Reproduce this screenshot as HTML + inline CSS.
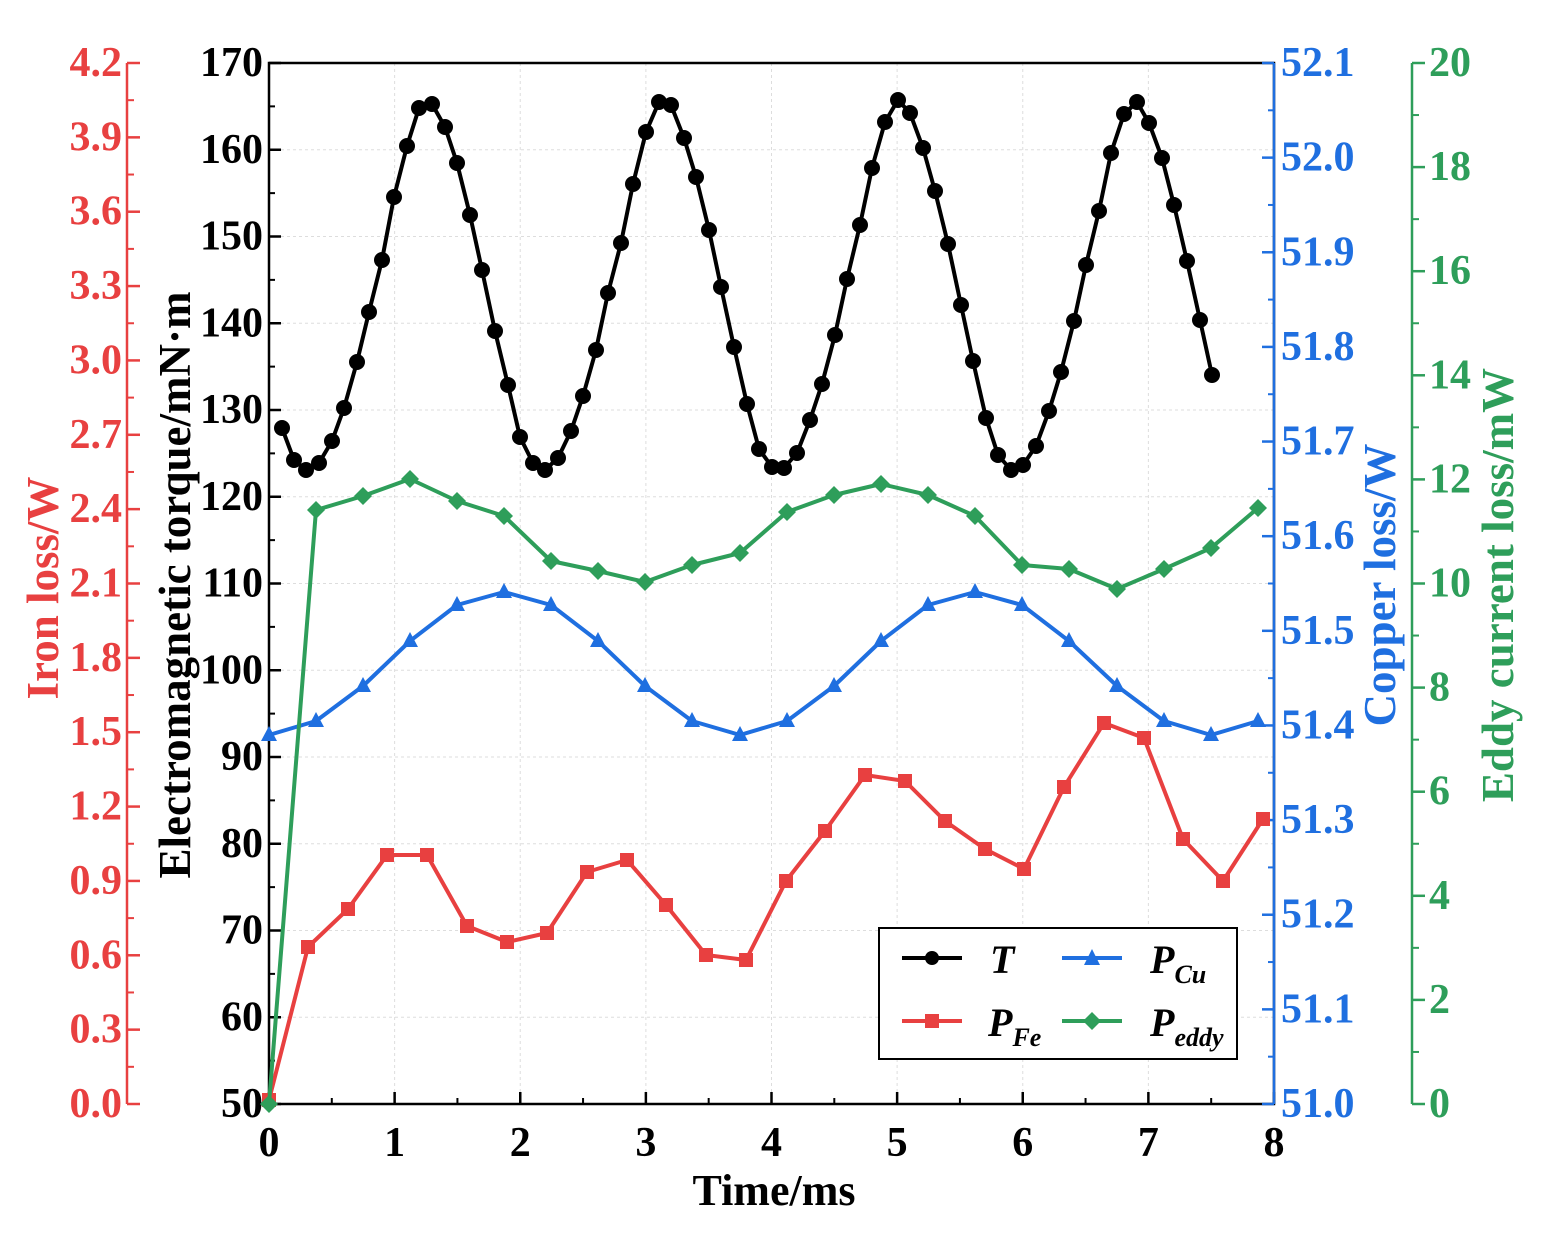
<!DOCTYPE html>
<html><head><meta charset="utf-8"><style>body{margin:0;background:#fff}svg{display:block}text{font-family:"Liberation Serif",serif;font-weight:bold}</style></head><body>
<svg width="1542" height="1245" xmlns="http://www.w3.org/2000/svg" id="s">
<g id="grid" stroke="#ddd" stroke-dasharray="3,3" stroke-width="1"></g>
<rect x="269" y="63" width="1005" height="1041" fill="none" stroke="#000" stroke-width="2.5"/>
<g id="ax"></g>
<g id="series"></g>
<rect x="879" y="928" width="358" height="131" fill="#fff" stroke="#000" stroke-width="2"/>
<g stroke-width="4">
<line x1="902" y1="958" x2="962" y2="958" stroke="#000"/><circle cx="932" cy="958" r="7"/>
<line x1="902" y1="1021" x2="962" y2="1021" stroke="#e84040"/><rect x="925" y="1014" width="14" height="14" fill="#e84040"/>
<line x1="1062" y1="958" x2="1122" y2="958" stroke="#1f6fe0"/><polygon points="1092,949 1100,965 1084,965" fill="#1f6fe0"/>
<line x1="1062" y1="1021" x2="1122" y2="1021" stroke="#2e9e5a"/><polygon points="1092,1012 1101,1021 1092,1030 1083,1021" fill="#2e9e5a"/>
</g>
<g font-style="italic" font-size="40">
<text x="990" y="973">T</text>
<text x="988" y="1036">P<tspan font-size="26" dy="10">Fe</tspan></text>
<text x="1150" y="973">P<tspan font-size="26" dy="10">Cu</tspan></text>
<text x="1150" y="1036">P<tspan font-size="26" dy="10">eddy</tspan></text>
</g>
<text x="774" y="1205" font-size="44" text-anchor="middle">Time/ms</text>
<text transform="translate(190,585) rotate(-90)" font-size="45" text-anchor="middle">Electromagnetic torque/mN·m</text>
<text transform="translate(58,588) rotate(-90)" font-size="45" text-anchor="middle" fill="#e84040">Iron loss/W</text>
<text transform="translate(1395,585) rotate(-90)" font-size="45" text-anchor="middle" fill="#1f6fe0">Copper loss/W</text>
<text transform="translate(1513,585) rotate(-90)" font-size="45" text-anchor="middle" fill="#2e9e5a">Eddy current loss/mW</text>
</svg>
<script>
const NS="http://www.w3.org/2000/svg";
function el(p,t,a,txt){const e=document.createElementNS(NS,t);for(const k in a)e.setAttribute(k,a[k]);if(txt!==undefined)e.textContent=txt;document.getElementById(p).appendChild(e);return e;}
const y0=1104,y1=63,H=y0-y1,FS=42;
for(let i=0;i<=8;i++){const x=269+i*125.625;el("ax","line",{x1:x,y1:1104,x2:x,y2:1092,stroke:"#000","stroke-width":2.5});el("ax","text",{x:x,y:1156,"font-size":FS,"text-anchor":"middle"},i);
 if(i>0&&i<8)el("grid","line",{x1:x,y1:63,x2:x,y2:1104});
 if(i<8){el("ax","line",{x1:x+62.8,y1:1104,x2:x+62.8,y2:1098,stroke:"#000","stroke-width":2});}}
for(let v=50;v<=170;v+=10){const y=y0-(v-50)/120*H;el("ax","line",{x1:269,y1:y,x2:281,y2:y,stroke:"#000","stroke-width":2.5});el("ax","text",{x:263,y:y+13,"font-size":FS,"text-anchor":"end"},v);
 if(v>50&&v<170)el("grid","line",{x1:269,y1:y,x2:1274,y2:y});
 if(v<170)el("ax","line",{x1:269,y1:y-H/24,x2:275,y2:y-H/24,stroke:"#000","stroke-width":2});}
el("ax","line",{x1:127,y1:63,x2:127,y2:1104,stroke:"#e84040","stroke-width":2.5});
for(let i=0;i<=14;i++){const y=y0-i/14*H;el("ax","line",{x1:127,y1:y,x2:140,y2:y,stroke:"#e84040","stroke-width":2.5});el("ax","text",{x:122,y:y+13,"font-size":FS,"text-anchor":"end",fill:"#e84040"},(i*0.3).toFixed(1));
 if(i<14)el("ax","line",{x1:127,y1:y-H/28,x2:134,y2:y-H/28,stroke:"#e84040","stroke-width":2});}
el("ax","line",{x1:1274,y1:63,x2:1274,y2:1104,stroke:"#1f6fe0","stroke-width":2.5});
for(let i=0;i<=11;i++){const y=y0-i/11*H;el("ax","line",{x1:1262,y1:y,x2:1274,y2:y,stroke:"#1f6fe0","stroke-width":2.5});el("ax","text",{x:1281,y:y+13,"font-size":FS,fill:"#1f6fe0"},(51+i*0.1).toFixed(1));
 if(i<11)el("ax","line",{x1:1268,y1:y-H/22,x2:1274,y2:y-H/22,stroke:"#1f6fe0","stroke-width":2});}
el("ax","line",{x1:1412,y1:63,x2:1412,y2:1104,stroke:"#2e9e5a","stroke-width":2.5});
for(let i=0;i<=10;i++){const y=y0-i/10*H;el("ax","line",{x1:1412,y1:y,x2:1425,y2:y,stroke:"#2e9e5a","stroke-width":2.5});el("ax","text",{x:1429,y:y+13,"font-size":FS,fill:"#2e9e5a"},i*2);
 if(i<10)el("ax","line",{x1:1412,y1:y-H/20,x2:1419,y2:y-H/20,stroke:"#2e9e5a","stroke-width":2});}
function line(pts,c){el("series","polyline",{points:pts.map(p=>p.join(",")).join(" "),fill:"none",stroke:c,"stroke-width":4,"stroke-linejoin":"round"});}
const tx=[282,294,306,319,332,344,357,369,382,394,407,419,432,445,457,470,482,495,508,520,533,545,558,571,583,596,608,621,633,646,659,671,684,696,709,721,734,747,759,772,784,797,810,822,835,847,860,872,885,898,910,923,935,948,961,973,986,998,1011,1023,1036,1049,1061,1074,1086,1099,1111,1124,1137,1149,1162,1174,1187,1200,1212];
const ty=[428,460,470,463,441,408,362,312,260,197,146,108,104,127,163,215,270,331,385,437,463,470,458,431,396,350,293,243,184,132,102,105,138,177,230,287,347,404,449,467,468,453,420,384,335,279,225,168,122,100,113,148,191,244,305,361,418,455,470,465,446,411,372,321,265,211,153,114,102,123,158,205,261,320,375];
const T=tx.map((x,i)=>[x,ty[i]]);
const G=[[269,1104],[316,510],[363,496],[410,479],[457,501],[504,516],[551,561],[598,571],[645,582],[692,565],[740,553],[787,512],[834,495],[881,484],[928,495],[975,516],[1022,565],[1069,569],[1117,589],[1164,569],[1211,548],[1258,508]];
const B=[[269,735],[316,721],[363,686],[410,641],[457,605],[504,592],[551,605],[598,641],[645,686],[692,721],[740,735],[787,721],[834,686],[881,641],[928,605],[975,592],[1022,605],[1069,641],[1117,686],[1164,721],[1211,735],[1258,721]];
const R=[[269,1100],[308,947],[348,909],[387,855],[427,855],[467,926],[507,942],[547,933],[587,872],[627,860],[666,905],[706,955],[746,960],[786,881],[825,831],[865,775],[905,781],[945,821],[985,849],[1024,869],[1064,787],[1104,723],[1144,738],[1183,839],[1223,881],[1263,819]];
line(R,"#e84040");R.forEach(p=>el("series","rect",{x:p[0]-7,y:p[1]-7,width:14,height:14,fill:"#e84040"}));
line(B,"#1f6fe0");B.forEach(p=>el("series","polygon",{points:`${p[0]},${p[1]-9} ${p[0]+8},${p[1]+6} ${p[0]-8},${p[1]+6}`,fill:"#1f6fe0"}));
line(G,"#2e9e5a");G.forEach(p=>el("series","polygon",{points:`${p[0]},${p[1]-9} ${p[0]+9},${p[1]} ${p[0]},${p[1]+9} ${p[0]-9},${p[1]}`,fill:"#2e9e5a"}));
line(T,"#000");T.forEach(p=>el("series","circle",{cx:p[0],cy:p[1],r:8,fill:"#000"}));
</script>
</body></html>
